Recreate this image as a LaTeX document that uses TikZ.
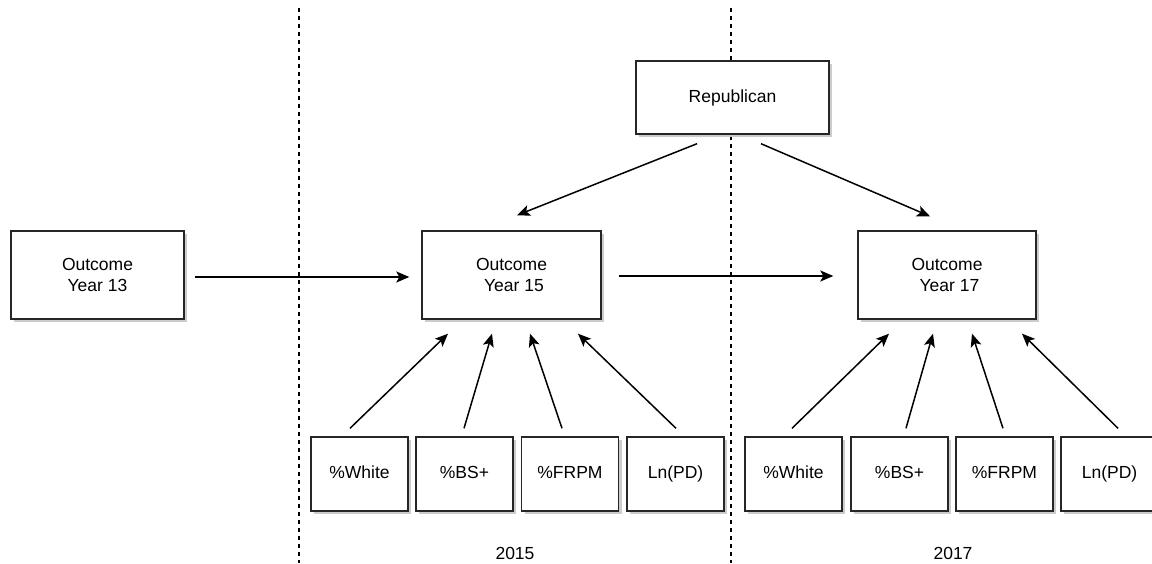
\documentclass[tikz,border=0pt]{standalone}
\usepackage{fontspec}
\setmainfont{Liberation Sans}
\usetikzlibrary{arrows.meta,shadows}
\begin{document}
\begin{tikzpicture}[x=1pt,y=-1pt,
  box/.style={draw=black!85,line width=1.4pt,fill=white,rectangle,align=center,
    font=\fontsize{17.5}{21.7}\selectfont,
    drop shadow={shadow xshift=3pt,shadow yshift=-3pt,fill=black!20,opacity=1}},
  bigbox/.style={box,minimum height=88pt},
  smallbox/.style={box,minimum width=97pt,minimum height=74pt,text height=12.8pt,text depth=3.8pt},
  arr/.style={line width=1.5pt,-{Stealth[length=13pt,width=11pt,inset=3pt]}},
  divider/.style={line width=1.2pt,dash pattern=on 3.5pt off 4.5pt},
  yearlabel/.style={font=\fontsize{17.5}{21}\selectfont}]
\useasboundingbox (0,0) rectangle (1152,563);
% dividers
\coordinate (d1t) at (299,8); \coordinate (d1b) at (299,563);
\coordinate (d2t) at (731,8); \coordinate (d2b) at (731,563);
\draw[divider] (d1t) -- (d1b);
\draw[divider] (d2t) -- (d2b);
% nodes
\node[box,minimum width=193pt,minimum height=73pt] (rep) at (732.5,97.5) {Republican};
\node[bigbox,minimum width=173pt] (o13) at (97.5,275) {Outcome\\Year 13};
\node[bigbox,minimum width=179pt] (o15) at (511.5,275) {Outcome\\\ Year 15};
\node[bigbox,minimum width=178pt] (o17) at (947,275) {Outcome\\\ Year 17};
\node[smallbox] (b1) at (359.5,474) {\%White};
\node[smallbox] (b2) at (464.5,474) {\%BS+};
\node[smallbox] (b3) at (570,474) {\%FRPM};
\node[smallbox] (b4) at (675.5,474) {Ln(PD)};
\node[smallbox] (c1) at (793.5,474) {\%White};
\node[smallbox] (c2) at (899.5,474) {\%BS+};
\node[smallbox] (c3) at (1004.5,474) {\%FRPM};
\node[smallbox] (c4) at (1109.5,474) {Ln(PD)};
\node[yearlabel] (y15) at (515,553) {2015};
\node[yearlabel] (y17) at (953,553) {2017};
% connectors
\draw[arr] ([xshift=-35.5pt,yshift=-9pt]rep.south) -- ([xshift=5.5pt,yshift=15pt]o15.north);
\draw[arr] ([xshift=28.5pt,yshift=-9pt]rep.south) -- ([xshift=-17pt,yshift=14pt]o17.north);
\draw[arr] ([xshift=10pt,yshift=-2pt]o13.east) -- ([xshift=-12pt,yshift=-2pt]o15.west);
\draw[arr] ([xshift=17pt,yshift=-1pt]o15.east) -- ([xshift=-24pt,yshift=-1pt]o17.west);
\draw[arr] ([xshift=-9.5pt,yshift=8pt]b1.north) -- ([xshift=-63.5pt,yshift=-14pt]o15.south);
\draw[arr] ([xshift=-0.5pt,yshift=8pt]b2.north) -- ([xshift=-19.5pt,yshift=-14pt]o15.south);
\draw[arr] ([xshift=-8pt,yshift=8pt]b3.north) -- ([xshift=18.5pt,yshift=-14pt]o15.south);
\draw[arr] ([xshift=0.5pt,yshift=8pt]b4.north) -- ([xshift=66.5pt,yshift=-14pt]o15.south);
\draw[arr] ([xshift=-1.5pt,yshift=8pt]c1.north) -- ([xshift=-58pt,yshift=-14pt]o17.south);
\draw[arr] ([xshift=6.5pt,yshift=8pt]c2.north) -- ([xshift=-14pt,yshift=-14pt]o17.south);
\draw[arr] ([xshift=-1.5pt,yshift=8pt]c3.north) -- ([xshift=25pt,yshift=-14pt]o17.south);
\draw[arr] ([xshift=8.5pt,yshift=8pt]c4.north) -- ([xshift=75pt,yshift=-14pt]o17.south);
\end{tikzpicture}
\end{document}
